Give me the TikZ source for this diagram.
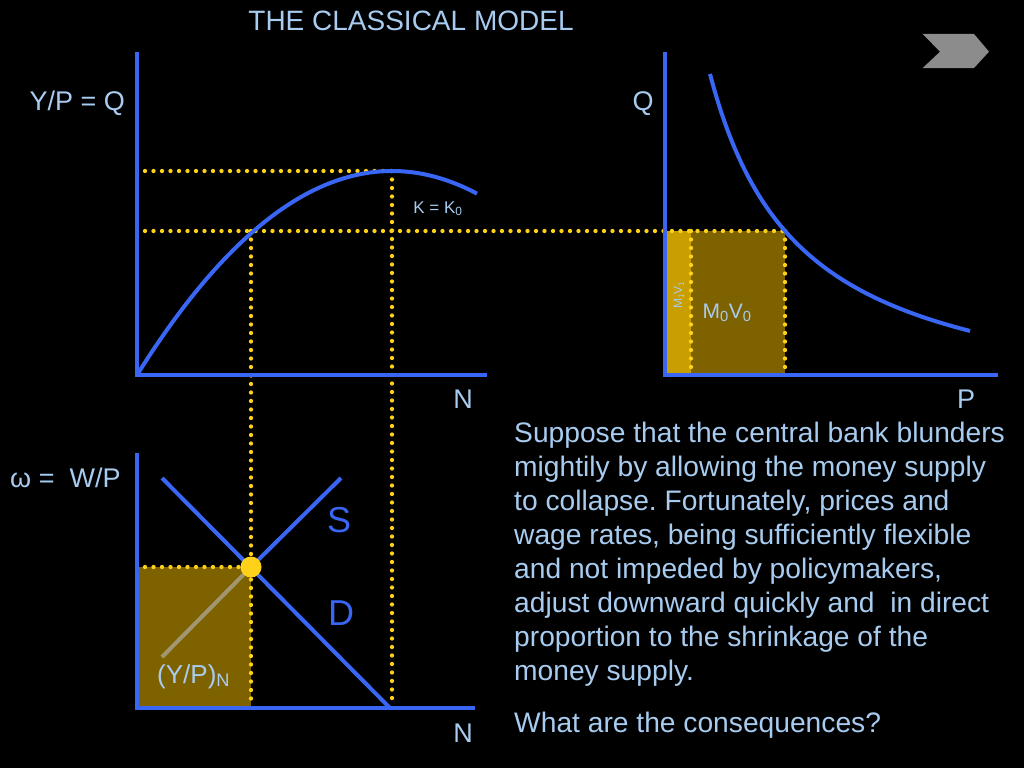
\documentclass[tikz,border=0pt]{standalone}
\usepackage{fontspec}
\setmainfont{Liberation Sans}
\frenchspacing
\definecolor{txt}{HTML}{A8CCF0}
\definecolor{lineblue}{HTML}{3A66F5}
\definecolor{dotyel}{HTML}{FFD21A}
\definecolor{olive}{HTML}{7E6200}
\definecolor{gold}{HTML}{C89E00}
\definecolor{greyline}{HTML}{A09670}
\definecolor{chev}{HTML}{8C8C8C}
\tikzset{
  axis/.style={draw=lineblue, line width=3.5pt},
  curve/.style={draw=lineblue, line width=4pt},
  dotline/.style={draw=dotyel, line width=4.3pt, line cap=round, dash pattern=on 0pt off 8.5pt},
  lbl/.style={text=txt, inner sep=0pt, font=\fontsize{27}{30}\selectfont},
  big/.style={text=lineblue, inner sep=0pt, font=\fontsize{36}{40}\selectfont},
}
\begin{document}
\begin{tikzpicture}[x=1pt,y=-1pt]
\fill[black] (0,0) rectangle (1024,768);
\useasboundingbox (0,0) rectangle (1024,768);

% title and chevron
\node[lbl, anchor=base, font=\fontsize{28}{30}\selectfont] (title) at (411,31) {THE CLASSICAL MODEL};
\fill[chev] (922.7,34) -- (974,34) -- (989,51.7) -- (974,68) -- (922.7,68) -- (940,51.7) -- cycle;

% shaded areas
\fill[gold] (667,231) rectangle (691,375);
\fill[olive] (691,231) rectangle (785,375);
\fill[olive] (137,567) rectangle (251,708);

% dotted guide lines
\draw[dotline] (145,171) -- (392,171);
\draw[dotline] (145,231) -- (785,231);
\draw[dotline] (251,231) -- (251,705);
\draw[dotline] (392,171) -- (392,705);
\draw[dotline] (145,567) -- (251,567);
\draw[dotline] (691,231) -- (691,375);
\draw[dotline] (785,231) -- (785,375);

% axes
\coordinate (o1) at (137,375);
\coordinate (o2) at (665,375);
\coordinate (o3) at (137,708);
\draw[axis] (137,52) -- (o1) -- (487,375);
\draw[axis] (665,52) -- (o2) -- (998,375);
\draw[axis] (137,453) -- (o3) -- (475,708);

% production function
\draw[curve] plot[domain=137:477, samples=90, smooth] (\x, {171 + 204*((\x-392)/255)^2});
% quantity-theory hyperbola
\draw[curve] plot[domain=710:970, samples=90, smooth] (\x, {420.5 - 189.6*(165.6/(\x-619.4))});

% labour market
\coordinate (eq) at (251,567);
\coordinate (slo) at (162,657);
\coordinate (shi) at (341,478);
\coordinate (dhi) at (162,478);
\coordinate (dlo) at (390,708);
\draw[curve] (dhi) -- (dlo);
\draw[draw=greyline, line width=4pt] (slo) -- (eq);
\draw[curve] (eq) -- (shi);
\fill[dotyel] (eq) circle (10.5pt);

% labels
\node[lbl, anchor=base east] (yq) at (125,110) {Y/P = Q};
\node[lbl, anchor=base] (q) at (643,110) {Q};
\node[lbl, anchor=base] (n1) at (463,408) {N};
\node[lbl, anchor=base] (p) at (966,408) {P};
\node[lbl, anchor=base] (n2) at (463,742) {N};
\node[lbl, anchor=base west] (w) at (10,487) {ω =\ \ W/P};
\node[lbl, anchor=base, font=\fontsize{17}{19}\selectfont] (k) at (438,213) {K = K\textsubscript{0}};
\node[lbl, anchor=base, font=\fontsize{21}{23}\selectfont] (m0) at (727,318) {M\textsubscript{0}V\textsubscript{0}};
\node[lbl, rotate=90, font=\fontsize{12}{14}\selectfont] (m1) at (679,295) {M\textsubscript{1}V\textsubscript{1}};
\node[big, anchor=base] (s) at (339,532) {S};
\node[big, anchor=base] (d) at (341,625) {D};
\node[lbl, anchor=base west, font=\fontsize{26}{28}\selectfont] (yp) at (157,683) {(Y/P)\textsubscript{N}};

\node[lbl, anchor=base west, align=left, font=\fontsize{28.2}{34}\selectfont] (body) at (514,680)
{Suppose that the central bank blunders\\
mightily by allowing the money supply\\
to collapse. Fortunately, prices and\\
wage rates, being sufficiently flexible\\
and not impeded by policymakers,\\
adjust downward quickly and\ \ in direct\\
proportion to the shrinkage of the\\
money supply.};
\node[lbl, anchor=base west, font=\fontsize{28.2}{34}\selectfont] (q2) at (514,732) {What are the consequences?};
\end{tikzpicture}
\end{document}
